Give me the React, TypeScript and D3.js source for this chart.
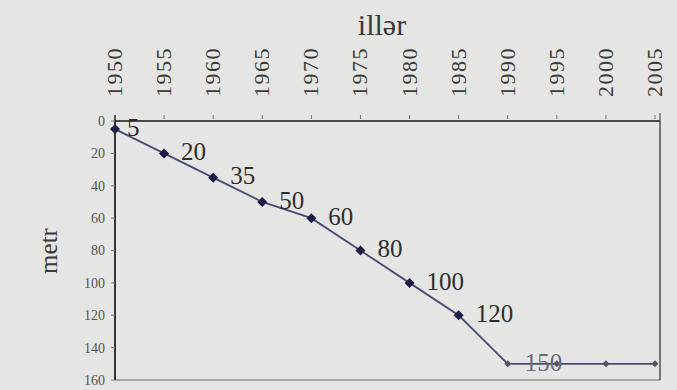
import React from "react";
import * as d3 from "d3";

const years = [1950, 1955, 1960, 1965, 1970, 1975, 1980, 1985, 1990, 1995, 2000, 2005];
const depth = [5, 20, 35, 50, 60, 80, 100, 120, 150, 150, 150, 150];
const pointLabels = ["5", "20", "35", "50", "60", "80", "100", "120", "150", "", "", ""];
const yTicks = [0, 20, 40, 60, 80, 100, 120, 140, 160];
const xTitle = "illər";
const yTitle = "metr";

const W = 677;
const H = 390;
const left = 115;
const right = 660;
const top = 121;
const bottom = 380;

export default function App() {
  const x = d3.scaleLinear().domain([1950, 2005]).range([left, 655]);
  const y = d3.scaleLinear().domain([0, 160]).range([top, bottom]);
  const line = d3
    .line<number>()
    .x((_, i) => x(years[i]))
    .y((d) => y(d));
  const serif = "'Liberation Serif', 'DejaVu Serif', serif";
  const textCol = "#3a3a3a";
  const diamond = (cx: number, cy: number, r: number) =>
    `M${cx},${cy - r}L${cx + r},${cy}L${cx},${cy + r}L${cx - r},${cy}Z`;

  return (
    <svg
      width={W}
      height={H}
      style={{ position: "absolute", left: 0, top: 0, display: "block" }}
    >
      <rect x={0} y={0} width={W} height={H} fill="#e5e5e3" />
      {/* frame */}
      <rect x={left} y={top} width={right - left} height={bottom - top} fill="none" stroke="#6a6a6a" strokeWidth={1} />
      <line x1={left} x2={right} y1={top} y2={top} stroke="#2a2a2a" strokeWidth={1.6} />
      <line x1={left} x2={left} y1={top - 6} y2={bottom} stroke="#2a2a2a" strokeWidth={1.8} />
      <line x1={right} x2={right} y1={top - 8} y2={bottom} stroke="#555" strokeWidth={1.2} />
      {/* x ticks and labels (top) */}
      {years.map((yr) => (
        <g key={yr}>
          <line x1={x(yr)} x2={x(yr)} y1={top - 6} y2={top - 2} stroke="#777" strokeWidth={1} />
          <text
            transform={`translate(${x(yr) + 7},${top - 24}) rotate(-90)`}
            fontFamily={serif}
            fontSize={22}
            letterSpacing={1.5}
            fill={textCol}
            textAnchor="start"
          >
            {yr}
          </text>
        </g>
      ))}
      <text x={382} y={35} fontFamily={serif} fontSize={30} fill={textCol} textAnchor="middle">
        {xTitle}
      </text>
      {/* y ticks and labels */}
      {yTicks.map((t) => (
        <g key={t}>
          <line x1={left - 4} x2={left} y1={y(t)} y2={y(t)} stroke="#777" strokeWidth={1} />
          <text
            x={left - 10}
            y={y(t)}
            dy="0.35em"
            fontFamily={serif}
            fontSize={14}
            fill="#555"
            textAnchor="end"
          >
            {t}
          </text>
        </g>
      ))}
      <text
        transform={`translate(57,251) rotate(-90)`}
        fontFamily={serif}
        fontSize={25}
        fill={textCol}
        textAnchor="middle"
      >
        {yTitle}
      </text>
      {/* series */}
      <path d={line(depth) || ""} fill="none" stroke="#4b4b78" strokeWidth={1.8} />
      {depth.map((d, i) => (
        <path
          key={i}
          d={diamond(x(years[i]), y(d), i < 8 ? 5 : 3.5)}
          fill={i < 8 ? "#1c1c48" : "#55556a"}
        />
      ))}
      {pointLabels.map((lab, i) =>
        lab ? (
          <text
            key={i}
            x={x(years[i]) + (i === 0 ? 12 : 17)}
            y={y(depth[i]) - 2}
            dy="0.35em"
            fontFamily={serif}
            fontSize={25}
            fill={i === 8 ? "#6a6a7a" : "#2e2e2e"}
            textAnchor="start"
          >
            {lab}
          </text>
        ) : null
      )}
    </svg>
  );
}
